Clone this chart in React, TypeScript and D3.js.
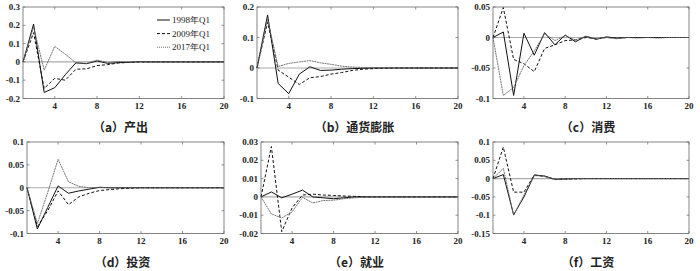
import React from "react";
import * as d3 from "d3";

const periods = d3.range(1, 21);
const seriesNames = ["1998年Q1", "2009年Q1", "2017年Q1"];
const xTicks = [4, 8, 12, 16, 20];

// (a) 产出
const outY98 = [0, 0.207, -0.167, -0.141, -0.07, -0.005, -0.01, 0.005, -0.008, -0.004, -0.002, 0.001, 0, 0, 0, 0, 0, 0, 0, 0];
const outY09 = [0, 0.16, -0.145, -0.09, -0.1, -0.04, -0.038, -0.02, -0.015, -0.006, -0.003, -0.001, 0, 0, 0, 0, 0, 0, 0, 0];
const outY17 = [0, 0.19, -0.045, 0.085, 0.042, -0.005, -0.008, 0.01, -0.003, 0.002, 0, 0, 0, 0, 0, 0, 0, 0, 0, 0];
// (b) 通货膨胀
const infY98 = [0, 0.174, -0.051, -0.084, -0.02, 0.004, -0.008, -0.007, -0.004, -0.002, -0.001, 0, 0, 0, 0, 0, 0, 0, 0, 0];
const infY09 = [0, 0.15, -0.007, -0.03, -0.054, -0.032, -0.028, -0.02, -0.015, -0.008, -0.004, -0.002, -0.001, 0, 0, 0, 0, 0, 0, 0];
const infY17 = [0, 0.16, 0.005, 0.015, 0.02, 0.024, 0.017, 0.012, 0.006, 0.003, 0.002, 0.001, 0, 0, 0, 0, 0, 0, 0, 0];
// (c) 消费
const conY98 = [0, 0.009, -0.095, 0.007, -0.029, 0.008, -0.012, 0.004, -0.007, 0.002, -0.003, 0.001, -0.001, 0, 0, 0, 0, 0, 0, 0];
const conY09 = [0, 0.049, -0.036, -0.043, -0.056, -0.018, -0.012, -0.005, -0.004, 0, -0.002, 0, -0.001, 0, 0, 0, 0, 0, 0, 0];
const conY17 = [0, -0.095, -0.082, -0.046, -0.022, 0.006, -0.005, 0.003, -0.004, 0.002, -0.002, 0, -0.002, 0, -0.001, 0, -0.001, 0, 0, 0];
// (d) 投资
const invY98 = [0, -0.09, -0.043, 0.004, -0.012, -0.007, -0.003, 0.001, 0, 0, 0, 0, 0, 0, 0, 0, 0, 0, 0, 0];
const invY09 = [0, -0.085, -0.05, -0.007, -0.037, -0.02, -0.012, -0.006, -0.004, -0.002, -0.001, 0, 0, 0, 0, 0, 0, 0, 0, 0];
const invY17 = [0, -0.078, -0.01, 0.062, 0.013, 0.003, 0, 0.001, 0, 0, 0, 0, 0, 0, 0, 0, 0, 0, 0, 0];
// (e) 就业
const empY98 = [0, 0.0027, -0.0005, 0.0015, 0.0037, 0, -0.0005, -0.001, -0.0005, 0, 0, 0, 0, 0, 0, 0, 0, 0, 0, 0];
const empY09 = [0, 0.0275, -0.019, -0.006, 0.001, 0.0015, 0.001, 0.0008, 0.0005, 0.0003, 0, 0, 0, 0, 0, 0, 0, 0, 0, 0];
const empY17 = [0, -0.0093, -0.0115, -0.0082, -0.0003, -0.0033, -0.002, -0.0018, -0.001, -0.0005, -0.0002, 0, 0, 0, 0, 0, 0, 0, 0, 0];
// (f) 工资
const wagY98 = [0, 0.011, -0.099, -0.05, 0.01, 0.007, -0.002, -0.001, 0, 0, 0, 0, 0, 0, 0, 0, 0, 0, 0, 0];
const wagY09 = [0, 0.086, -0.037, -0.037, 0.0095, 0.006, -0.002, -0.001, -0.001, 0, 0, 0, 0, 0, 0, 0, 0, 0, 0, 0];
const wagY17 = [0, 0.028, -0.1, -0.045, 0.008, 0.007, -0.003, -0.001, 0, 0, 0, 0, 0, 0, 0, 0, 0, 0, 0, 0];

const titles = ["（a）产出", "（b）通货膨胀", "（c）消费", "（d）投资", "（e）就业", "（f）工资"];
const yDomains: [number, number][] = [[-0.2, 0.3], [-0.1, 0.2], [-0.1, 0.05], [-0.1, 0.1], [-0.02, 0.03], [-0.15, 0.1]];
const yTicks = [
  [0.3, 0.2, 0.1, 0, -0.1, -0.2],
  [0.2, 0.1, 0, -0.1],
  [0.05, 0, -0.05, -0.1],
  [0.1, 0.05, 0, -0.05, -0.1],
  [0.03, 0.02, 0.01, 0, -0.01, -0.02],
  [0.1, 0.05, 0, -0.05, -0.1, -0.15],
];
const panelData = [
  [outY98, outY09, outY17],
  [infY98, infY09, infY17],
  [conY98, conY09, conY17],
  [invY98, invY09, invY17],
  [empY98, empY09, empY17],
  [wagY98, wagY09, wagY17],
];

// layout of plot boxes
const boxes = [
  { l: 23, r: 224, t: 7, b: 98.5 },
  { l: 257, r: 458, t: 7, b: 98.5 },
  { l: 493, r: 689, t: 7, b: 98.5 },
  { l: 27, r: 224, t: 142, b: 233.5 },
  { l: 261, r: 458, t: 142, b: 233.5 },
  { l: 493, r: 689, t: 142, b: 233.5 },
];

const styles = [
  { stroke: "#111", dash: "none", w: 1 },
  { stroke: "#111", dash: "3,2", w: 1 },
  { stroke: "#666", dash: "2,0.6", w: 0.9 },
];

const serif = "'Liberation Serif', 'DejaVu Serif', serif";
const cjk = "'Noto Sans CJK SC', sans-serif";

function fmt(v: number) {
  if (v === 0) return "0";
  return String(+v.toFixed(3));
}

function Panel({ idx }: { idx: number }) {
  const box = boxes[idx];
  const x = d3.scaleLinear().domain([1, 20]).range([box.l, box.r]);
  const y = d3.scaleLinear().domain(yDomains[idx]).range([box.b, box.t]);
  const line = d3
    .line<number>()
    .x((_, i) => x(periods[i]))
    .y((d) => y(d));
  const tl = 2.5;
  return (
    <g>
      <rect x={box.l} y={box.t} width={box.r - box.l} height={box.b - box.t} fill="white" stroke="#666" strokeWidth={0.8} />
      <line x1={box.l} x2={box.r} y1={y(0)} y2={y(0)} stroke="#aaa" strokeWidth={1.2} />
      {panelData[idx].map((s, k) => (
        <path key={k} d={line(s) || ""} fill="none" stroke={styles[k].stroke} strokeWidth={styles[k].w} strokeDasharray={styles[k].dash} />
      ))}
      {xTicks.map((t) => (
        <g key={"x" + t}>
          <line x1={x(t)} x2={x(t)} y1={box.b} y2={box.b - tl} stroke="#666" strokeWidth={0.7} />
          <line x1={x(t)} x2={x(t)} y1={box.t} y2={box.t + tl} stroke="#666" strokeWidth={0.7} />
          <text x={x(t)} y={box.b + 10} textAnchor="middle" fontFamily={serif} fontSize={9} fontWeight="bold" fill="#222">
            {t}
          </text>
        </g>
      ))}
      {yTicks[idx].map((t) => (
        <g key={"y" + t}>
          <line x1={box.l} x2={box.l + tl} y1={y(t)} y2={y(t)} stroke="#666" strokeWidth={0.7} />
          <line x1={box.r} x2={box.r - tl} y1={y(t)} y2={y(t)} stroke="#666" strokeWidth={0.7} />
          <text x={box.l - 3} y={y(t) + 3} textAnchor="end" fontFamily={serif} fontSize={9} fontWeight="bold" fill="#222">
            {fmt(t)}
          </text>
        </g>
      ))}
      <text x={(box.l + box.r) / 2 - 3} y={box.b + 33} textAnchor="middle" fontFamily={cjk} fontSize={12} fontWeight="bold" fill="#222">
        {titles[idx]}
      </text>
      {idx === 0 &&
        seriesNames.map((n, k) => (
          <g key={n}>
            <line x1={157} x2={170} y1={20 + k * 13.6} y2={20 + k * 13.6} stroke={styles[k].stroke} strokeWidth={1} strokeDasharray={k === 2 ? "1,1" : styles[k].dash} />
            <text x={172} y={23 + k * 13.6} fontFamily={serif} fontSize={9} fill="#222">
              {n}
            </text>
          </g>
        ))}
    </g>
  );
}

export default function App() {
  return (
    <svg width={700} height={271} style={{ position: "absolute", left: 0, top: 0, background: "white" }}>
      <rect width={700} height={271} fill="white" />
      {[0, 1, 2, 3, 4, 5].map((i) => (
        <Panel key={i} idx={i} />
      ))}
    </svg>
  );
}
